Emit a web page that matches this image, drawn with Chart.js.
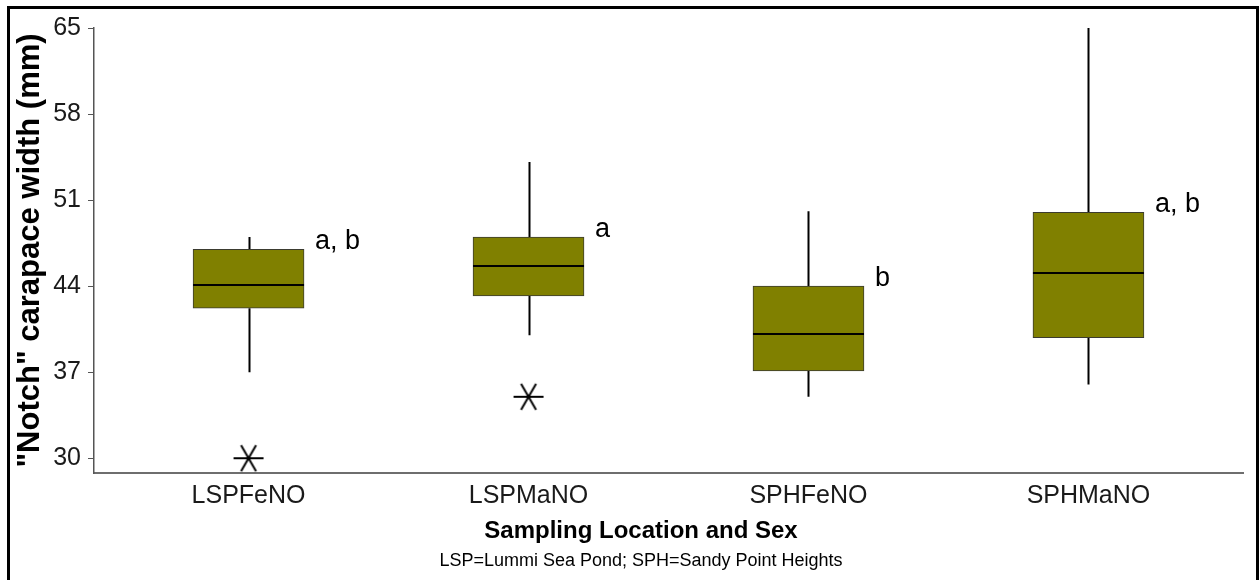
<!DOCTYPE html>
<html>
<head>
<meta charset="utf-8">
<script src="https://cdn.jsdelivr.net/npm/chart.js@4"></script>
<style>
  html, body { margin: 0; padding: 0; background: #fff; overflow: hidden; }
  #wrap { position: relative; width: 1259px; height: 580px; }
  #frame {
    position: absolute; left: 7px; top: 6px; width: 1246px; height: 640px;
    border: 3px solid #000; pointer-events: none;
  }
  canvas { position: absolute; left: 0; top: 0; }
</style>
</head>
<body>
<div id="wrap">
  <canvas id="c" width="1259" height="580"></canvas>
  <div id="frame"></div>
</div>
<script>
// Notch carapace width (mm) by sampling location and sex
const categories = ['LSPFeNO', 'LSPMaNO', 'SPHFeNO', 'SPHMaNO'];
const whiskerLow  = [37.0, 40.0, 35.0, 36.0];
const quartile1   = [42.2, 43.2, 37.1, 39.8];
const medians     = [44.1, 45.6, 40.1, 45.1];
const quartile3   = [47.0, 48.0, 44.0, 50.0];
const whiskerHigh = [48.0, 54.1, 50.1, 65.0];
const outliers    = [[30.0], [35.0], [], []];
const groupLetters = ['a, b', 'a', 'b', 'a, b'];
const yTicks = [30, 37, 44, 51, 58, 65];

const FONT = "'Liberation Sans', Arial, sans-serif";

// six-armed asterisk used for outlying observations
function asteriskSymbol(r) {
  const c = document.createElement('canvas');
  const s = Math.ceil(r * 2 + 4);
  c.width = s; c.height = s;
  const g = c.getContext('2d');
  g.strokeStyle = '#000';
  g.lineWidth = 2;
  const m = s / 2;
  for (const deg of [0, 60, 120]) {
    const a = deg * Math.PI / 180;
    g.beginPath();
    g.moveTo(m - r * Math.cos(a), m - r * Math.sin(a));
    g.lineTo(m + r * Math.cos(a), m + r * Math.sin(a));
    g.stroke();
  }
  return c;
}

const boxParts = {
  id: 'boxParts',
  beforeDatasetsDraw(chart) {
    const { ctx } = chart;
    const xs = chart.scales.x, ys = chart.scales.y;
    ctx.save();
    ctx.strokeStyle = '#000';
    ctx.lineWidth = 2;
    categories.forEach((_, i) => {
      const x = Math.round(xs.getPixelForValue(i)) + 0.5;
      ctx.beginPath();
      ctx.moveTo(x, ys.getPixelForValue(whiskerHigh[i]));
      ctx.lineTo(x, ys.getPixelForValue(quartile3[i]));
      ctx.moveTo(x, ys.getPixelForValue(quartile1[i]));
      ctx.lineTo(x, ys.getPixelForValue(whiskerLow[i]));
      ctx.stroke();
    });
    ctx.restore();
  },
  afterDatasetsDraw(chart) {
    const { ctx } = chart;
    const ys = chart.scales.y;
    const bars = chart.getDatasetMeta(0).data;
    ctx.save();
    ctx.strokeStyle = '#000';
    ctx.lineWidth = 2;
    bars.forEach((bar, i) => {
      const y = Math.round(ys.getPixelForValue(medians[i]));
      ctx.beginPath();
      ctx.moveTo(bar.x - bar.width / 2, y);
      ctx.lineTo(bar.x + bar.width / 2, y);
      ctx.stroke();
    });
    // group letters beside each box
    ctx.fillStyle = '#000';
    ctx.font = `27px ${FONT}`;
    ctx.textAlign = 'left';
    ctx.textBaseline = 'alphabetic';
    bars.forEach((bar, i) => {
      ctx.fillText(groupLetters[i], bar.x + bar.width / 2 + 11, ys.getPixelForValue(quartile3[i]));
    });
    ctx.restore();
  },
  afterDraw(chart) {
    const { ctx } = chart;
    ctx.save();
    ctx.fillStyle = '#000';
    ctx.textAlign = 'center';
    ctx.textBaseline = 'middle';
    ctx.font = `bold 24px ${FONT}`;
    ctx.fillText('Sampling Location and Sex', 641, 531);
    ctx.font = `18px ${FONT}`;
    ctx.fillText('LSP=Lummi Sea Pond; SPH=Sandy Point Heights', 641, 561);
    ctx.restore();
  }
};

new Chart(document.getElementById('c'), {
  data: {
    datasets: [
      {
        type: 'bar',
        data: categories.map((_, i) => ({ x: i, y: [quartile1[i], quartile3[i]] })),
        backgroundColor: '#808000',
        borderColor: '#3b3b30',
        borderWidth: 1,
        borderSkipped: false,
        barThickness: 111
      },
      {
        type: 'scatter',
        data: outliers.flatMap((vals, i) => vals.map(v => ({ x: i, y: v }))),
        pointStyle: asteriskSymbol(15),
        pointRadius: 15
      }
    ]
  },
  plugins: [boxParts],
  options: {
    responsive: false,
    animation: false,
    events: [],
    layout: { padding: { left: 0, right: 13, top: 28, bottom: 0 } },
    plugins: { legend: { display: false }, tooltip: { enabled: false } },
    scales: {
      x: {
        type: 'linear',
        offset: false,
        min: -0.552,
        max: 3.552,
        afterBuildTicks: s => { s.ticks = categories.map((_, i) => ({ value: i })); },
        afterFit: s => { s.height = 107; },
        grid: { display: false },
        border: { display: true, color: '#6e6e6e', width: 2 },
        ticks: {
          callback: v => categories[v],
          color: '#1a1a1a',
          font: { family: FONT, size: 25 },
          padding: 0,
          maxRotation: 0,
          autoSkip: false
        }
      },
      y: {
        min: 28.8,
        max: 65,
        afterBuildTicks: s => { s.ticks = yTicks.map(v => ({ value: v })); },
        afterFit: s => { s.width = 94; },
        grid: { drawOnChartArea: false, tickLength: 6, color: '#555', tickColor: '#555' },
        border: { display: true, color: '#555', width: 1.5 },
        ticks: {
          color: '#1a1a1a',
          font: { family: FONT, size: 25 },
          padding: 7
        },
        title: {
          display: true,
          text: '"Notch" carapace width (mm)',
          color: '#000',
          font: { family: FONT, size: 31, weight: 'bold' },
          padding: { top: 12, bottom: 0 }
        }
      }
    }
  }
});
</script>
</body>
</html>
